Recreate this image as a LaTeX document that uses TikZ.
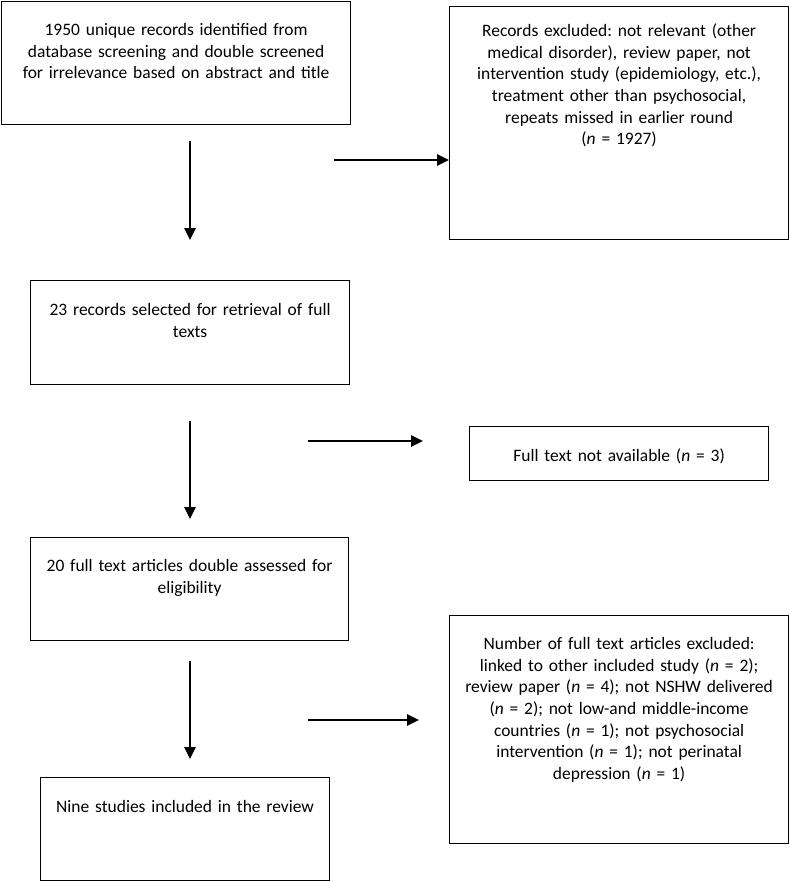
\documentclass[tikz,border=0pt]{standalone}
\usepackage{fontspec}
\setmainfont{Carlito}
\usetikzlibrary{arrows.meta}
\frenchspacing

\tikzset{
	stagebox/.style={draw, line width=0.9pt, anchor=north west, align=center, inner sep=0pt, font=\fontsize{13.1}{16.25}\selectfont},
	flowarrow/.style={line width=1.4pt, -{Triangle[width=8.5pt,length=9pt]}}
}

\begin{document}
\begin{tikzpicture}[x=0.75pt, y=-0.75pt]
		\useasboundingbox (0,0) rectangle (789,881);
		% boxes
		\node[stagebox, text width=261.75pt, text height=25.5pt, text depth=66.75pt] (identified) at (1,1) {1950 unique records identified from\\database screening and double screened\\for irrelevance based on abstract and title};
		\node[stagebox, text width=254.25pt, text height=22.5pt, text depth=152.25pt] (excluded) at (449,6) {Records excluded: not relevant (other\\medical disorder), review paper, not\\intervention study (epidemiology, etc.),\\treatment other than psychosocial,\\repeats missed in earlier round\\(\textit{n} = 1927)};
		\node[stagebox, text width=239.25pt, text height=26.25pt, text depth=51.75pt] (selected) at (30,280) {23 records selected for retrieval of full\\texts};
		\node[stagebox, text width=224.25pt, text height=26.25pt, text depth=14.25pt] (notavail) at (469,426) {Full text not available (\textit{n} = 3)};
		\node[stagebox, text width=238.5pt, text height=25.5pt, text depth=51.75pt] (assessed) at (30,537) {20 full text articles double assessed for\\eligibility};
		\node[stagebox, text width=254.25pt, text height=25.5pt, text depth=145.5pt] (fullexcl) at (449,615) {Number of full text articles excluded:\\linked to other included study (\textit{n} = 2);\\review paper (\textit{n} = 4); not NSHW delivered\\(\textit{n} = 2); not low-and middle-income\\countries (\textit{n} = 1); not psychosocial\\intervention (\textit{n} = 1); not perinatal\\depression (\textit{n} = 1)};
		\node[stagebox, text width=216.75pt, text height=26.25pt, text depth=51pt] (included) at (40,777) {Nine studies included in the review};
		% arrow ends
		\coordinate (down1s) at (190,141);
		\coordinate (down1e) at (190,240);
		\coordinate (down2s) at (190,421);
		\coordinate (down2e) at (190,519);
		\coordinate (down3s) at (190,661);
		\coordinate (down3e) at (190,759);
		\coordinate (right1s) at (334,160);
		\coordinate (right2s) at (308,441);
		\coordinate (right2e) at (423,441);
		\coordinate (right3s) at (308,720);
		\coordinate (right3e) at (419,720);
		% arrows
		\draw[flowarrow] (down1s) -- (down1e);
		\draw[flowarrow] (down2s) -- (down2e);
		\draw[flowarrow] (down3s) -- (down3e);
		\draw[flowarrow] (right1s) -- (right1s -| excluded.west);
		\draw[flowarrow] (right2s) -- (right2e);
		\draw[flowarrow] (right3s) -- (right3e);
	\end{tikzpicture}
\end{document}
